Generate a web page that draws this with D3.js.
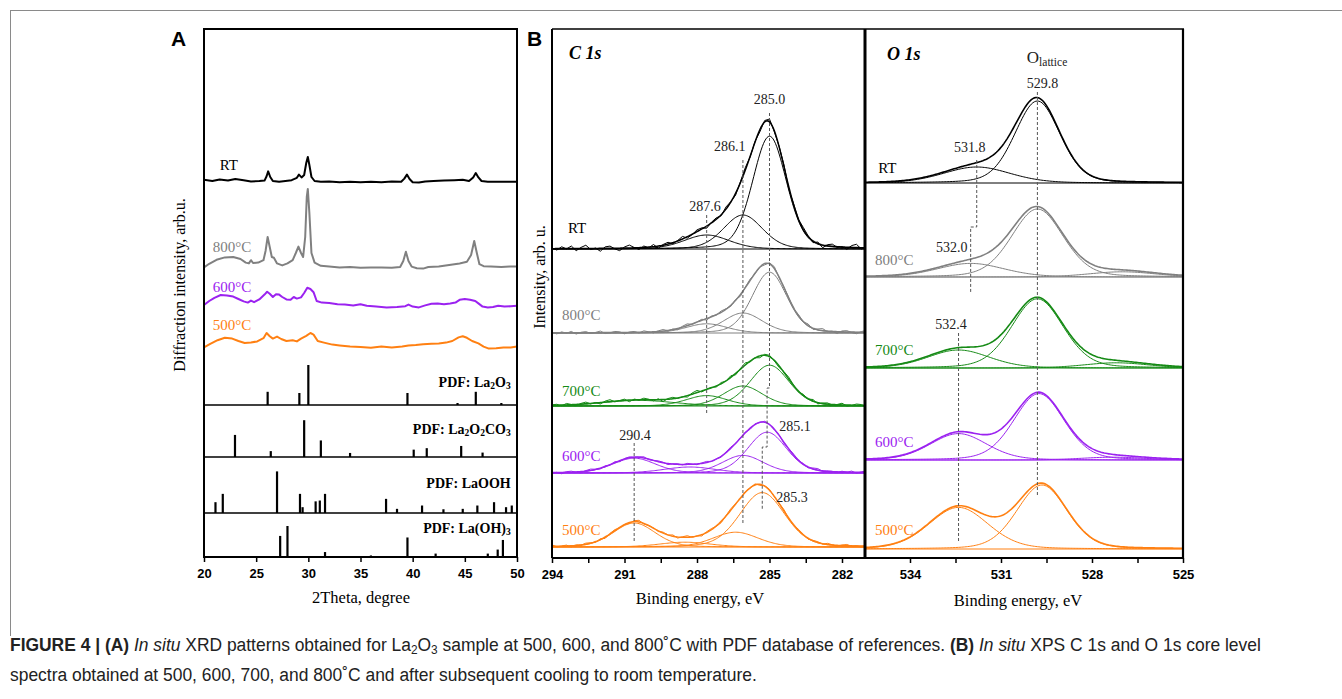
<!DOCTYPE html>
<html>
<head>
<meta charset="utf-8">
<script src="https://cdn.jsdelivr.net/npm/d3@7"></script>
<style>
  body { margin: 0; background: #fff; }
  svg { display: block; }
  .serif { font-family: "Liberation Serif", "Times New Roman", serif; }
  .sans { font-family: "Liberation Sans", Arial, sans-serif; }
</style>
</head>
<body>
<svg width="1342" height="699"></svg>
<script>
const svg = d3.select('svg')

// ---------- Panel A: in situ XRD (2theta, intensity arb. units) ----------
const xrdRT = [[20,94.3],[20.8,94.0],[21.5,94.4],[22.3,94.1],[23,94.5],[23.8,94.2],[24.5,93.9],[25.3,94.0],[25.8,94.1],[26.0,95.2],[26.15,96.4],[26.35,95.0],[26.6,94.0],[27.2,93.8],[27.8,94.0],[28.4,94.2],[28.9,94.8],[29.1,95.6],[29.35,94.9],[29.6,95.5],[29.8,98.5],[29.95,100.0],[30.1,98.0],[30.3,95.0],[30.6,94.0],[31.2,93.8],[32,93.9],[33,93.7],[34,93.8],[35,93.7],[36,93.8],[37,93.7],[38,93.9],[38.9,93.8],[39.2,94.6],[39.45,95.6],[39.7,94.5],[40,93.7],[40.6,93.6],[41.2,93.9],[42,94.0],[43,94.1],[44,94.2],[44.8,94.3],[45.4,94.0],[45.8,94.9],[46.05,96.0],[46.3,94.9],[46.6,94.0],[47.2,93.8],[48,93.8],[49,93.8],[50,93.8]]
const xrd800 = [[20,72.4],[20.5,73.3],[21.2,74.3],[22,74.9],[22.8,75.0],[23.5,74.5],[24,73.6],[24.3,73.4],[24.5,74.2],[24.7,73.5],[25.2,73.6],[25.7,74.2],[25.9,76.5],[26.1,80.0],[26.3,77.5],[26.5,75.0],[26.7,74.8],[27.0,73.4],[27.5,72.9],[28.0,73.4],[28.5,74.2],[28.8,76.0],[29.05,77.6],[29.3,76.0],[29.5,75.0],[29.7,80.0],[29.85,90.0],[29.95,92.0],[30.1,86.0],[30.3,76.0],[30.6,73.6],[31.2,72.8],[32,72.6],[33,72.4],[34,72.5],[35,72.3],[36,72.4],[37,72.4],[38,72.3],[38.8,72.5],[39.1,74.0],[39.35,76.3],[39.6,74.0],[39.9,72.6],[40.4,72.2],[41,72.1],[41.5,72.5],[42.5,72.6],[43.5,73.0],[44.5,73.4],[45.2,73.8],[45.6,75.5],[45.9,79.0],[46.15,76.0],[46.4,73.2],[46.8,72.7],[47.5,72.6],[48.5,72.5],[49.3,72.6],[50,72.6]]
const xrd600 = [[20,63.0],[20.5,64.0],[21,64.8],[21.6,65.5],[22.2,65.4],[22.8,65.1],[23.3,64.5],[23.8,63.9],[24.2,63.6],[24.5,64.1],[24.8,63.7],[25.3,64.4],[25.8,65.6],[26.05,66.3],[26.3,65.8],[26.6,65.0],[26.9,65.7],[27.2,65.6],[27.5,65.0],[27.9,64.4],[28.3,64.3],[28.6,65.0],[28.9,64.6],[29.3,64.9],[29.6,66.0],[29.9,67.3],[30.2,67.0],[30.5,66.2],[30.8,64.0],[31.3,63.6],[32,63.5],[32.8,63.2],[33.5,63.1],[34.3,62.9],[35,63.2],[35.6,62.8],[36.5,62.6],[37.5,62.4],[38.5,62.5],[39.3,62.7],[39.6,63.1],[40,62.6],[40.6,62.4],[41.2,62.9],[41.8,63.3],[42.4,63.4],[43,63.2],[43.6,63.4],[44.1,63.6],[44.5,64.3],[45,64.5],[45.5,64.3],[46,64.0],[46.3,63.4],[46.7,62.6],[47.2,62.4],[47.7,62.5],[48.2,62.8],[48.8,62.6],[49.4,62.7],[50,62.8]]
const xrd500 = [[20,52.4],[20.6,53.3],[21.3,54.2],[22,54.8],[22.7,54.6],[23.3,54.0],[23.9,53.5],[24.5,53.6],[25.1,53.9],[25.7,54.7],[26.0,56.0],[26.3,55.2],[26.6,54.6],[27.0,55.1],[27.4,54.5],[27.9,54.0],[28.5,54.2],[28.9,53.9],[29.3,54.6],[29.8,55.3],[30.2,56.0],[30.5,55.6],[30.9,54.0],[31.5,53.6],[32.3,53.1],[33,52.9],[34,52.6],[35,52.5],[36,52.3],[37,52.6],[38,52.4],[39,52.6],[39.6,52.9],[40.3,53.0],[41,53.2],[41.8,53.3],[42.5,53.4],[43.2,53.6],[43.8,54.0],[44.4,54.9],[44.8,55.2],[45.2,54.8],[45.7,54.0],[46.3,53.4],[46.8,52.6],[47.3,52.1],[48,52.2],[48.7,52.4],[49.4,52.4],[50,52.6]]

// PDF reference cards: [2theta, relative intensity %]
const pdfLa2O3 = [[26.1,33],[29.14,30],[30.0,100],[39.5,30],[44.3,5],[46.05,33],[48.5,5]]
const pdfLa2O2CO3 = [[22.97,60],[26.4,16],[29.6,100],[31.2,45],[34.0,11],[40.1,20],[41.35,24],[44.65,30],[46.7,12]]
const pdfLaOOH = [[21.1,26],[21.8,46],[27.0,100],[29.2,46],[29.45,14],[30.7,28],[31.1,30],[31.6,46],[37.45,34],[38.5,10],[40.9,18],[42.95,9],[44.8,10],[46.2,18],[47.8,26],[48.95,14],[49.5,18]]
const pdfLaOH3 = [[27.3,68],[28.0,100],[31.6,16],[36.0,5],[39.5,63],[42.2,11],[47.2,11],[48.15,24],[48.65,55]]

// ---------- Panel B: XPS fits, components [centre eV, height, FWHM eV] ----------
const temps = ['RT', '800°C', '700°C', '600°C', '500°C']
const xrdTemps = ['RT', '800°C', '600°C', '500°C']

const c1sRT = [[285.0,28.2,1.65],[286.1,8.5,1.9],[287.6,3.5,2.2]]
const c1s800 = [[285.0,15.2,1.7],[286.1,5.0,1.9],[287.6,2.3,2.0]]
const c1s700 = [[285.0,10.2,1.9],[286.1,5.0,1.9],[287.6,2.6,2.0],[290.4,1.4,3.5]]
const c1s600 = [[285.1,10.2,1.9],[286.1,4.4,2.0],[288.3,1.5,2.5],[290.6,3.7,2.1]]
const c1s500 = [[285.3,13.6,2.2],[286.4,3.7,2.2],[288.5,1.2,2.5],[290.6,6.0,2.05]]
const c1sOffset = [77, 56, 37.75, 21, 2.5]
// measured scatter around the fit, C 1s, 0.2 eV steps from 294 eV
const c1sNoise = [0.2,-0.4,0.5,-0.1,0.7,-0.6,0.3,0.9,-0.3,0.1,
  -0.8,0.4,0.6,-0.2,-0.7,0.3,0.8,0.1,-0.5,0.4,
  -0.2,0.6,-0.6,0.2,0.5,-0.3,0.1,0.7,-0.4,-0.1,
  0.5,0.3,-0.6,0.2,0.4,-0.3,0.6,0.1,-0.5,0.3,
  0.7,-0.2,0.2,-0.6,0.4,0.8,-0.3,0.1,0.5,-0.7,
  0.3,-0.1,0.6,0.2,-0.5,0.4,-0.8,0.3,0.6,-0.2,
  0.1,-0.6,0.5,0.9,-0.4,0.2]
const c1sNoiseAmp = [0.9, 0.55, 0.6, 0.4, 0.45]
const c1sNoiseShift = [0, 17, 33, 8, 45]

const o1sRT = [[529.8,20.5,1.75],[531.8,4.0,2.6]]
const o1s800 = [[529.8,17.0,2.0],[532.0,3.4,2.6],[527.0,1.3,2.6]]
const o1s700 = [[529.8,17.3,2.0],[532.4,4.5,2.4],[527.2,1.3,2.5]]
const o1s600 = [[529.75,16.6,1.95],[532.4,6.6,2.2],[527.3,0.7,2.5]]
const o1s500 = [[529.65,16.0,1.95],[532.4,10.4,2.3]]
const o1sOffset = [93.5, 70, 47.25, 24.25, 2]

const c1sTicks = d3.range(294, 281.9, -1.5)
const o1sTicks = d3.range(534, 524.9, -1.5)
const xrdTicks = [20, 25, 30, 35, 40, 45, 50]

// ---------- styles ----------
const tempColor = { 'RT': '#000000', '800°C': '#808080', '700°C': '#158a15', '600°C': '#9b22f0', '500°C': '#ff8012' }
const dashColor = '#555'

// ---------- scales ----------
const y = d3.scaleLinear().domain([0, 132]).range([557, 29])
const xA = d3.scaleLinear().domain([20, 50]).range([204, 517])
const xC = d3.scaleLinear().domain([294, 282]).range([552, 842])
const xO = d3.scaleLinear().domain([534, 525]).range([910, 1183])

const pv = (E, c) => {
  const t = (E - c[0]) / c[2]
  return c[1] * (0.8 * Math.exp(-4 * Math.LN2 * t * t) + 0.2 / (1 + 4 * t * t))
}
const env = (E, comps) => d3.sum(comps, c => pv(E, c))

// outer figure frame
svg.append('line').attr('x1', 10).attr('x2', 1342).attr('y1', 10.5).attr('y2', 10.5).attr('stroke', '#8a8a8a')
svg.append('line').attr('x1', 10.5).attr('x2', 10.5).attr('y1', 10).attr('y2', 636).attr('stroke', '#8a8a8a')

// helper for text with subscripts
const rich = (g, x, yy, parts, size, attrs) => {
  const t = g.append('text').attr('x', x).attr('y', yy)
  Object.entries(attrs || {}).forEach(([k, v]) => t.attr(k, v))
  parts.forEach(p => {
    const s = t.append('tspan').text(p[0])
    if (p[1] === 'sub') s.attr('font-size', size * 0.68).attr('baseline-shift', '-22%')
    if (p[1] === 'b') s.attr('font-weight', 'bold')
    if (p[1] === 'i') s.attr('font-style', 'italic')
  })
  return t
}

// ================= Panel A =================
const gA = svg.append('g')
const lineA = d3.line().x(d => xA(d[0])).y(d => y(d[1]))
const xrdData = [xrdRT, xrd800, xrd600, xrd500]
const xrdLabelPos = [[21.5, 96.75], [20.85, 76.25], [20.85, 66.25], [20.85, 56.75]]

xrdData.forEach((d, i) => {
  gA.append('path').attr('d', lineA(d)).attr('fill', 'none')
    .attr('stroke', tempColor[xrdTemps[i]]).attr('stroke-width', 2).attr('stroke-linejoin', 'round')
  gA.append('text').attr('class', 'serif').attr('font-size', 15)
    .attr('x', xA(xrdLabelPos[i][0])).attr('y', y(xrdLabelPos[i][1]))
    .attr('fill', tempColor[xrdTemps[i]]).text(xrdTemps[i])
})

const pdfRefs = [
  { name: [['PDF: La'], ['2', 'sub'], ['O'], ['3', 'sub']], sticks: pdfLa2O3, base: 38, full: 10, ly: 42.5 },
  { name: [['PDF: La'], ['2', 'sub'], ['O'], ['2', 'sub'], ['CO'], ['3', 'sub']], sticks: pdfLa2O2CO3, base: 25, full: 9.2, ly: 30.75 },
  { name: [['PDF: LaOOH']], sticks: pdfLaOOH, base: 11, full: 10.4, ly: 17.25 },
  { name: [['PDF: La(OH)'], ['3', 'sub']], sticks: pdfLaOH3, base: 0, full: 7.75, ly: 6 }
]
pdfRefs.forEach(r => {
  gA.append('line').attr('x1', xA(20)).attr('x2', xA(50))
    .attr('y1', y(r.base)).attr('y2', y(r.base)).attr('stroke', '#000').attr('stroke-width', 1.6)
  gA.selectAll(null).data(r.sticks).enter().append('line')
    .attr('x1', d => xA(d[0])).attr('x2', d => xA(d[0]))
    .attr('y1', y(r.base)).attr('y2', d => y(r.base + r.full * d[1] / 100))
    .attr('stroke', '#000').attr('stroke-width', 2.2)
  rich(gA, xA(49.4), y(r.ly), r.name, 14,
    { 'class': 'serif', 'font-size': 14, 'font-weight': 'bold', 'text-anchor': 'end' })
})

gA.append('g').attr('transform', 'translate(0,557)').attr('class', 'sans')
  .call(d3.axisBottom(xA).tickValues(xrdTicks).tickSize(5).tickPadding(7).tickSizeOuter(0))
  .call(g => g.select('.domain').remove())
  .call(g => g.selectAll('.tick line').attr('stroke-width', 1.5))
  .call(g => g.selectAll('text').attr('font-size', 13).attr('font-weight', 'bold').attr('font-family', 'Liberation Sans, Arial, sans-serif'))

gA.append('rect').attr('x', 204).attr('y', 29).attr('width', 313).attr('height', 528)
  .attr('fill', 'none').attr('stroke', '#000').attr('stroke-width', 2)

gA.append('text').attr('class', 'serif').attr('font-size', 16.5).attr('text-anchor', 'middle')
  .attr('x', 361).attr('y', 603).text('2Theta, degree')
gA.append('text').attr('class', 'serif').attr('font-size', 16).attr('text-anchor', 'middle')
  .attr('transform', 'translate(185,285) rotate(-90)').text('Diffraction intensity, arb.u.')
gA.append('text').attr('class', 'sans').attr('font-size', 21).attr('font-weight', 'bold')
  .attr('x', 171).attr('y', 46).text('A')

// ================= Panel B =================
const gB = svg.append('g')
const defs = svg.append('defs')
defs.append('clipPath').attr('id', 'clipC').append('rect').attr('x', 552).attr('y', 29).attr('width', 313).attr('height', 529)
defs.append('clipPath').attr('id', 'clipO').append('rect').attr('x', 865).attr('y', 29).attr('width', 318).attr('height', 529)

// ---- C 1s ----
const gC = gB.append('g').attr('clip-path', 'url(#clipC)')
const c1sFits = [c1sRT, c1s800, c1s700, c1s600, c1s500]
const cE = d3.range(294.2, 280.95, -0.05)
const lineC = d3.line().x(d => xC(d[0])).y(d => y(d[1]))

c1sFits.forEach((comps, i) => {
  const col = tempColor[temps[i]]
  const off = c1sOffset[i]
  gC.append('path').attr('d', lineC([[294.2, off], [281, off]]))
    .attr('stroke', col).attr('stroke-width', 1).attr('fill', 'none')
  comps.forEach(c => {
    gC.append('path').attr('d', lineC(cE.map(E => [E, off + pv(E, c)])))
      .attr('stroke', col).attr('stroke-width', 1).attr('fill', 'none')
  })
  const raw = c1sNoise.map((n, k) => {
    const E = 294 - k * 0.2
    return [E, off + env(E, comps) + c1sNoiseAmp[i] * c1sNoise[(k + c1sNoiseShift[i]) % c1sNoise.length]]
  })
  gC.append('path').attr('d', lineC(raw))
    .attr('stroke', col).attr('stroke-width', 1).attr('fill', 'none')
  gC.append('path').attr('d', lineC(cE.map(E => [E, off + env(E, comps)])))
    .attr('stroke', col).attr('stroke-width', 1.5).attr('fill', 'none')
})

const c1sLabelPos = [[293.34, 81], [293.59, 59.25], [293.59, 40.25], [293.59, 24], [293.59, 5.5]]
temps.forEach((t, i) => {
  gB.append('text').attr('class', 'serif').attr('font-size', 15).attr('fill', tempColor[t])
    .attr('x', xC(c1sLabelPos[i][0])).attr('y', y(c1sLabelPos[i][1])).text(t)
})

// dashed peak markers [energy, y-from, y-to]
const c1sDash = [
  [[285.0, 111], [285.0, 42.25], [285.1, 42.25], [285.1, 27.5], [285.3, 27.5], [285.3, 11.75]],
  [[286.1, 99.25], [286.1, 8.5]],
  [[287.6, 85.5], [287.6, 35.5]],
  [[290.6, 28.5], [290.6, 3.5]]
]
c1sDash.forEach(p => {
  gB.append('path').attr('d', lineC(p)).attr('fill', 'none')
    .attr('stroke', dashColor).attr('stroke-width', 1).attr('stroke-dasharray', '3,2')
})
const c1sPeakLabels = [['285.0', 285.0, 113.25], ['286.1', 286.64, 101.5], ['287.6', 287.67, 86.5],
  ['285.1', 283.95, 31.5], ['290.4', 290.57, 29.25], ['285.3', 284.07, 13.75]]
c1sPeakLabels.forEach(d => {
  gB.append('text').attr('class', 'serif').attr('font-size', 14).attr('fill', '#222')
    .attr('text-anchor', 'middle').attr('x', xC(d[1])).attr('y', y(d[2])).text(d[0])
})

// ---- O 1s ----
const gO = gB.append('g').attr('clip-path', 'url(#clipO)')
const o1sFits = [o1sRT, o1s800, o1s700, o1s600, o1s500]
const oE = d3.range(535.7, 524.9, -0.05)
const lineO = d3.line().x(d => xO(d[0])).y(d => y(d[1]))

o1sFits.forEach((comps, i) => {
  const col = tempColor[temps[i]]
  const off = o1sOffset[i]
  gO.append('path').attr('d', lineO([[535.7, off], [524.9, off]]))
    .attr('stroke', col).attr('stroke-width', 1).attr('fill', 'none')
  comps.forEach(c => {
    gO.append('path').attr('d', lineO(oE.map(E => [E, off + pv(E, c)])))
      .attr('stroke', col).attr('stroke-width', 1).attr('fill', 'none')
  })
  gO.append('path').attr('d', lineO(oE.map(E => [E, off + env(E, comps)])))
    .attr('stroke', col).attr('stroke-width', 1.6).attr('fill', 'none')
})

const o1sLabelPos = [[535.05, 96], [535.15, 73], [535.15, 50.5], [535.15, 27.5], [535.15, 5.5]]
temps.forEach((t, i) => {
  gB.append('text').attr('class', 'serif').attr('font-size', 15).attr('fill', tempColor[t])
    .attr('x', xO(o1sLabelPos[i][0])).attr('y', y(o1sLabelPos[i][1])).text(t)
})

const o1sDash = [
  [[529.8, 116.25], [529.8, 15.5]],
  [[531.8, 99.25], [531.8, 82.5], [532.0, 82.5], [532.0, 66.25]],
  [[532.4, 56], [532.4, 3.5]]
]
o1sDash.forEach(p => {
  gB.append('path').attr('d', lineO(p)).attr('fill', 'none')
    .attr('stroke', dashColor).attr('stroke-width', 1).attr('stroke-dasharray', '3,2')
})
const o1sPeakLabels = [['529.8', 529.63, 117.25], ['531.8', 532.03, 101.25], ['532.0', 532.62, 76.25], ['532.4', 532.65, 57]]
o1sPeakLabels.forEach(d => {
  gB.append('text').attr('class', 'serif').attr('font-size', 14).attr('fill', '#222')
    .attr('text-anchor', 'middle').attr('x', xO(d[1])).attr('y', y(d[2])).text(d[0])
})
rich(gB, xO(530.15), y(123.5), [['O'], ['lattice', 'sub']], 17, { 'class': 'serif', 'font-size': 17, fill: '#222' })

// axes for panel B
const axisStyle = g => {
  g.select('.domain').remove()
  g.selectAll('.tick line').attr('stroke-width', 1.5)
  g.selectAll('text').attr('font-size', 13).attr('font-weight', 'bold').attr('font-family', 'Liberation Sans, Arial, sans-serif')
}
gB.append('g').attr('transform', 'translate(0,558)')
  .call(d3.axisBottom(xC).tickValues(c1sTicks).tickSize(5).tickPadding(7)
    .tickFormat(d => (Math.abs((294 - d) % 3) < 1e-6 ? d3.format('d')(d) : '')))
  .call(axisStyle)
gB.append('g').attr('transform', 'translate(0,558)')
  .call(d3.axisBottom(xO).tickValues(o1sTicks).tickSize(5).tickPadding(7)
    .tickFormat(d => (Math.abs((534 - d) % 3) < 1e-6 ? d3.format('d')(d) : '')))
  .call(axisStyle)

// frames
gB.append('line').attr('x1', 552).attr('x2', 1184).attr('y1', 29).attr('y2', 29).attr('stroke', '#000').attr('stroke-width', 1.6)
gB.append('line').attr('x1', 552).attr('x2', 1184).attr('y1', 558).attr('y2', 558).attr('stroke', '#000').attr('stroke-width', 2)
gB.append('line').attr('x1', 552).attr('x2', 552).attr('y1', 29).attr('y2', 558).attr('stroke', '#000').attr('stroke-width', 2)
gB.append('line').attr('x1', 865).attr('x2', 865).attr('y1', 29).attr('y2', 558).attr('stroke', '#000').attr('stroke-width', 3)
gB.append('line').attr('x1', 1183).attr('x2', 1183).attr('y1', 29).attr('y2', 558).attr('stroke', '#000').attr('stroke-width', 2.2)

gB.append('text').attr('class', 'serif').attr('font-size', 18).attr('font-weight', 'bold').attr('font-style', 'italic')
  .attr('x', 569).attr('y', 59).text('C 1s')
gB.append('text').attr('class', 'serif').attr('font-size', 18).attr('font-weight', 'bold').attr('font-style', 'italic')
  .attr('x', 887).attr('y', 60).text('O 1s')
gB.append('text').attr('class', 'serif').attr('font-size', 16.5).attr('text-anchor', 'middle')
  .attr('x', 700).attr('y', 604).text('Binding energy, eV')
gB.append('text').attr('class', 'serif').attr('font-size', 16.5).attr('text-anchor', 'middle')
  .attr('x', 1018).attr('y', 606).text('Binding energy, eV')
gB.append('text').attr('class', 'serif').attr('font-size', 16).attr('text-anchor', 'middle')
  .attr('transform', 'translate(545,277) rotate(-90)').text('Intensity, arb. u.')
gB.append('text').attr('class', 'sans').attr('font-size', 21).attr('font-weight', 'bold')
  .attr('x', 527).attr('y', 46).text('B')

// ================= caption =================
const capParts1 = [['FIGURE 4 | (A) ', 'b'], ['In situ', 'i'], [' XRD patterns obtained for La'], ['2', 'sub'], ['O'], ['3', 'sub'],
  [' sample at 500, 600, and 800˚C with PDF database of references. '], ['(B) ', 'b'], ['In situ', 'i'], [' XPS C 1s and O 1s core level']]
const capParts2 = [['spectra obtained at 500, 600, 700, and 800˚C and after subsequent cooling to room temperature.']]
const cap1 = rich(svg, 10, 651, capParts1, 16, { 'class': 'sans', 'font-size': 16, fill: '#222' })
const cap2 = rich(svg, 10, 681, capParts2, 16, { 'class': 'sans', 'font-size': 16, fill: '#222' })
const fs = 16 * 1252 / cap1.node().getComputedTextLength()
cap1.attr('font-size', fs).selectAll('tspan').filter(function () { return d3.select(this).attr('font-size') }).attr('font-size', fs * 0.68)
cap2.attr('font-size', fs)
</script>
</body>
</html>
